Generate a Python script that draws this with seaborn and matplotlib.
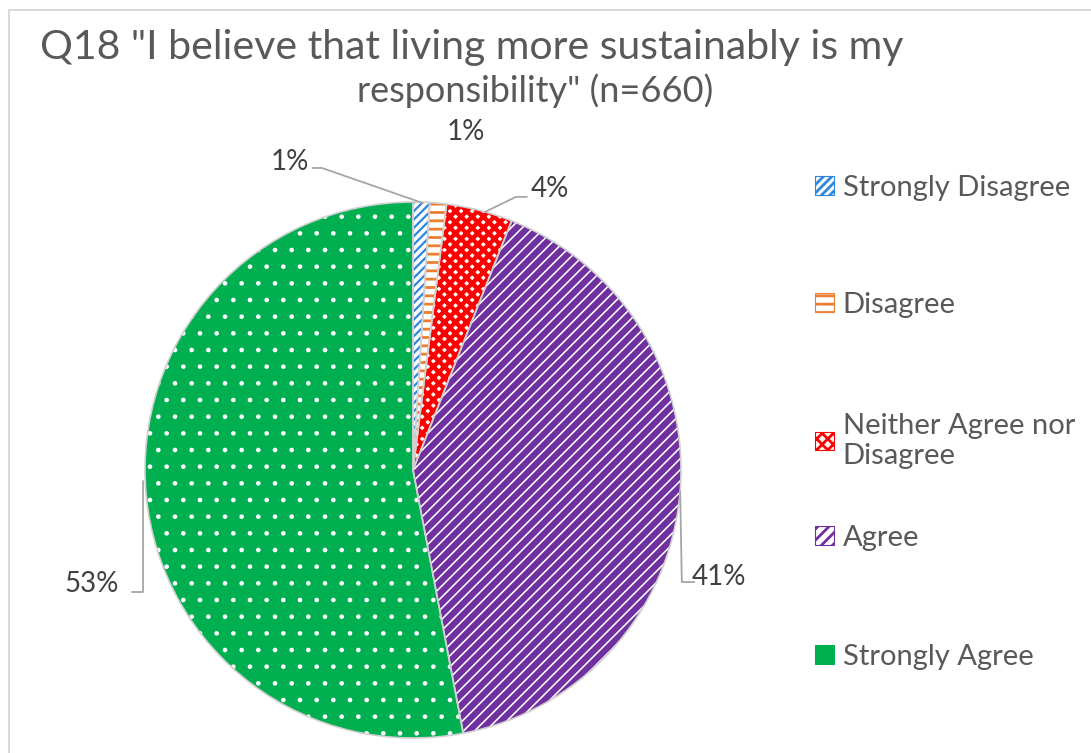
import matplotlib
matplotlib.use("Agg")
import matplotlib.pyplot as plt
from matplotlib.patches import Patch, Rectangle
import seaborn as sns

# Survey responses (percent of n=660)
categories = ["Strongly Disagree", "Disagree", "Neither Agree nor\nDisagree", "Agree", "Strongly Agree"]
values = [1, 1, 4, 41, 53]
value_labels = ["1%", "1%", "4%", "41%", "53%"]

title_line1 = 'Q18 "I believe that living more sustainably is my'
title_line2 = 'responsibility" (n=660)'

sns.set_theme(style="white")
plt.rcParams["font.family"] = ["Lato", "DejaVu Sans"]
plt.rcParams["hatch.linewidth"] = 2.0

# fill colour, hatch colour, hatch pattern and hatch weight per category
fill_colors = ["white", "white", "white", "white", "#00B050"]
hatch_colors = sns.color_palette(["#2E86DE", "#ED7D31", "#FF0000", "#7030A0", "white"])
hatches = ["////", "--", "xxx", "///", "."]
hatch_widths = [1.6, 2.0, 3.2, 4.5, 0.9]

fig = plt.figure(figsize=(10.91, 7.53), dpi=100)
W, H = 1091, 753
cx, cy, r = 413, 470, 268
ax = fig.add_axes([(cx - r) / W, (H - cy - r) / H, 2 * r / W, 2 * r / H])

wedges, _ = ax.pie(values, startangle=90, counterclock=False, colors=fill_colors,
                   wedgeprops=dict(linewidth=0))
for w, hc, hp, hw in zip(wedges, hatch_colors, hatches, hatch_widths):
    w.set_edgecolor(hc)
    w.set_hatch(hp)
    w.set_linewidth(0)
    if hasattr(w, "set_hatch_linewidth"):
        w.set_hatch_linewidth(hw)

# thin grey outline over the slices
ax.pie(values, startangle=90, counterclock=False,
       wedgeprops=dict(fill=False, edgecolor="#d0d0d0", linewidth=1.2))
ax.set_xlim(-1, 1)
ax.set_ylim(-1, 1)
ax.set_aspect("equal")
ax.axis("off")

# data labels with leader lines
label_color = "#404040"
label_fs = 20
label_pos = [(-0.459, 1.149), (0.198, 1.263), (0.511, 1.047), (1.14, -0.40), (-1.20, -0.425)]
for (x, y), t in zip(label_pos, value_labels):
    ax.text(x, y, t, ha="center", va="center", fontsize=label_fs, color=label_color, clip_on=False)

leader_color = "#a6a6a6"
leaders = [
    ([0.037, -0.340, -0.375], [0.996, 1.127, 1.127]),
    ([0.269, 0.384, 0.425], [0.963, 1.019, 1.019]),
    ([0.997, 1.003, 1.05], [-0.08, -0.418, -0.418]),
    ([-1.006, -1.006, -1.05], [-0.04, -0.455, -0.455]),
]
for xs, ys in leaders:
    ax.plot(xs, ys, color=leader_color, lw=1.3, clip_on=False)

# title
title_color = "#595959"
fig.text(472 / W, 1 - 47 / H, title_line1, ha="center", va="center", fontsize=29.5, color=title_color)
fig.text(535 / W, 1 - 91 / H, title_line2, ha="center", va="center", fontsize=26, color=title_color)

# legend: one entry per row, rows placed down the right-hand side
legend_rows = [188, 305, 441, 538, 657]
handles = [Patch(facecolor=fc, edgecolor=hc, hatch=hp, linewidth=0.8)
           for fc, hc, hp in zip(fill_colors, hatch_colors, hatches)]
handles[-1] = Patch(facecolor="#00B050", edgecolor="#00B050", linewidth=0.8)
for hd, lab, ypx in zip(handles, categories, legend_rows):
    fig.legend([hd], [lab], loc="center left", bbox_to_anchor=(815 / W, 1 - ypx / H),
               frameon=False, fontsize=21, labelcolor="#595959", handlelength=0.65,
               handleheight=0.6, handletextpad=0.3, borderaxespad=0, borderpad=0,
               labelspacing=0.35)

# chart border
fig.add_artist(Rectangle((8.5 / W, -0.02), 1.1, (H - 10) / H + 0.02, transform=fig.transFigure,
                         fill=False, edgecolor="#d9d9d9", linewidth=1.5))

fig.savefig("out.png", dpi=100)
